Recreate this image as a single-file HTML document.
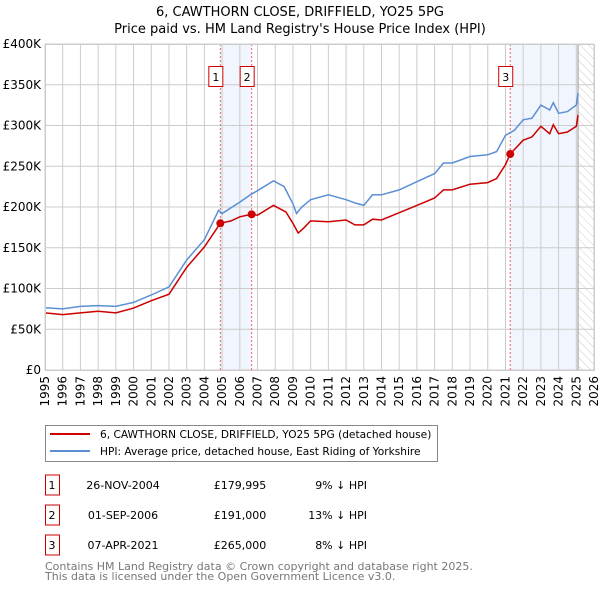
<!DOCTYPE html>
<html><head><meta charset="utf-8"><style>
body{margin:0;background:#fff;}
svg{display:block;font-family:"DejaVu Sans","Liberation Sans",sans-serif;}
</style></head><body>
<svg id="chart" width="600" height="590" viewBox="0 0 600 590">
<defs><pattern id="hatch" width="6" height="6" patternUnits="userSpaceOnUse" patternTransform="rotate(-45)"><line x1="0" y1="0" x2="0" y2="6" stroke="#ccc" stroke-width="1"/></pattern></defs>
<text x="300" y="16" text-anchor="middle" font-size="13">6, CAWTHORN CLOSE, DRIFFIELD, YO25 5PG</text>
<text x="300" y="33" text-anchor="middle" font-size="13">Price paid vs. HM Land Registry's House Price Index (HPI)</text>
<g id="plot"></g>
<g>
<rect x="45.5" y="425.5" width="392" height="36" fill="#fff" stroke="#888"/>
<line x1="50" y1="434" x2="90" y2="434" stroke="#cc0000" stroke-width="2"/>
<text x="100" y="438" font-size="10.6">6, CAWTHORN CLOSE, DRIFFIELD, YO25 5PG (detached house)</text>
<line x1="50" y1="451" x2="90" y2="451" stroke="#5b8fd6" stroke-width="2"/>
<text x="100" y="455" font-size="10.6">HPI: Average price, detached house, East Riding of Yorkshire</text>
</g>
<g id="table" font-size="11"></g>
<text x="45" y="570" font-size="11" fill="#777">Contains HM Land Registry data © Crown copyright and database right 2025.</text>
<text x="45" y="580" font-size="11" fill="#777">This data is licensed under the Open Government Licence v3.0.</text>
</svg>
<script>
const hpiYears=[1995,1996,1997,1998,1999,2000,2001,2002,2003,2004,2004.8,2005,2006,2006.6,2007,2007.9,2008.5,2009,2009.2,2009.5,2010,2011,2012,2012.5,2013,2013.5,2014,2015,2016,2017,2017.5,2018,2019,2020,2020.5,2021,2021.5,2022,2022.5,2023,2023.5,2023.7,2024,2024.5,2025,2025.1];
const hpiValues=[76500,75000,78000,79000,78000,83000,92000,102000,135000,160000,196000,192000,206000,215000,220000,232000,225000,204000,192000,200000,209000,215000,209000,205000,202000,215000,215000,221000,231000,241000,254000,254000,262000,264000,268000,288000,294000,307000,309000,325000,319000,328000,315000,317000,325000,340000];
const priceYears=[1995,1996,1997,1998,1999,2000,2001,2002,2003,2004,2004.9,2005.5,2006,2006.67,2007,2007.9,2008.6,2009,2009.3,2009.6,2010,2011,2012,2012.5,2013,2013.5,2014,2015,2016,2017,2017.5,2018,2019,2020,2020.5,2021,2021.27,2022,2022.5,2023,2023.5,2023.7,2024,2024.5,2025,2025.1];
const priceValues=[70000,68000,70000,72000,70000,76000,85000,93000,126000,151000,180000,183000,188000,191000,190000,202000,194000,180000,168000,174000,183000,182000,184000,178000,178000,185000,184000,193000,202000,211000,221000,221000,228000,230000,235000,252000,265000,282000,286000,299000,290000,301000,290000,292000,299000,313000];
const saleLabels=["1","2","3"];
const saleYears=[2004.9,2006.67,2021.27];
const salePrices=[179995,191000,265000];
const saleDates=["26-NOV-2004","01-SEP-2006","07-APR-2021"];
const salePriceText=["£179,995","£191,000","£265,000"];
const saleHpiText=["9% ↓ HPI","13% ↓ HPI","8% ↓ HPI"];
const yTicks=[0,50000,100000,150000,200000,250000,300000,350000,400000];
const yTickLabels=["£0","£50K","£100K","£150K","£200K","£250K","£300K","£350K","£400K"];
const xTicks=[1995,1996,1997,1998,1999,2000,2001,2002,2003,2004,2005,2006,2007,2008,2009,2010,2011,2012,2013,2014,2015,2016,2017,2018,2019,2020,2021,2022,2023,2024,2025,2026];
const dataEnd=2025.1;

const NS="http://www.w3.org/2000/svg";
const X0=45,X1=594,Y0=370,Y1=44;
const xs=y=>X0+(y-1995)/(2026-1995)*(X1-X0);
const ys=v=>Y0-v/400000*(Y0-Y1);
function mk(tag,attrs,parent){const e=document.createElementNS(NS,tag);for(const k in attrs)e.setAttribute(k,attrs[k]);parent.appendChild(e);return e;}
const plot=document.getElementById('plot');
const s1=mk('rect',{x:xs(saleYears[0]),y:Y1,width:xs(saleYears[1])-xs(saleYears[0]),height:Y0-Y1,fill:'#f1f5fd'},plot);


const s2=mk('rect',{x:xs(saleYears[2]),y:Y1,width:xs(dataEnd)-xs(saleYears[2]),height:Y0-Y1,fill:'#f1f5fd'},plot);


const hz=mk('rect',{x:xs(dataEnd),y:Y1,width:X1-xs(dataEnd),height:Y0-Y1,fill:'url(#hatch)'},plot);


xTicks.forEach(t=>{const l=mk('line',{x1:xs(t),x2:xs(t),y1:Y1,y2:Y0,stroke:'#ccc','stroke-width':1},plot);


const tx=mk('text',{x:0,y:0,'font-size':12,'text-anchor':'end',transform:`translate(${xs(t)+4},${Y0+6}) rotate(-90)`},plot);tx.textContent=t;

});
yTicks.forEach((t,i)=>{const l=mk('line',{x1:X0,x2:X1,y1:ys(t),y2:ys(t),stroke:'#ccc','stroke-width':1},plot);


const tx=mk('text',{x:X0-4,y:ys(t)+4,'font-size':12,'text-anchor':'end'},plot);tx.textContent=yTickLabels[i];

});
const el=mk('line',{x1:xs(dataEnd),x2:xs(dataEnd),y1:Y1,y2:Y0,stroke:'#999','stroke-width':1},plot);


saleYears.forEach((y,i)=>{const l=mk('line',{x1:xs(y),x2:xs(y),y1:Y1,y2:Y0,stroke:'#e66','stroke-width':1,'stroke-dasharray':'2,2'},plot);


const b=mk('rect',{x:xs(y)-11.5,y:66.5,width:14,height:20,fill:'#fff',stroke:'#c00'},plot);


const t=mk('text',{x:xs(y)-4.5,y:81,'font-size':11,'text-anchor':'middle'},plot);t.textContent=saleLabels[i];

});
const pts=(xa,va)=>xa.map((x,i)=>xs(x).toFixed(1)+','+ys(va[i]).toFixed(1)).join(' ');
const hl=mk('polyline',{points:pts(hpiYears,hpiValues),fill:'none',stroke:'#5b8fd6','stroke-width':1.5},plot);


const pl=mk('polyline',{points:pts(priceYears,priceValues),fill:'none',stroke:'#cc0000','stroke-width':1.5},plot);


saleYears.forEach((y,i)=>{const c=mk('circle',{cx:xs(y),cy:ys(salePrices[i]),r:4,fill:'#cc0000'},plot);

});
mk('rect',{x:X0+0.5,y:Y1+0.5,width:X1-X0,height:Y0-Y1,fill:'none',stroke:'#ccc'},plot);
const tb=document.getElementById('table');
saleLabels.forEach((lab,i)=>{const cy=485+i*30;
const b=mk('rect',{x:45.5,y:cy-10,width:14,height:20,fill:'#fff',stroke:'#c00'},tb);


const cells=[[52,lab,'middle'],[123,saleDates[i],'middle'],[240,salePriceText[i],'middle'],[367,saleHpiText[i],'end']];
cells.forEach(c=>{const t=mk('text',{x:c[0],y:cy+4,'text-anchor':c[2]},tb);t.textContent=c[1];

});});
</script>
</body></html>
